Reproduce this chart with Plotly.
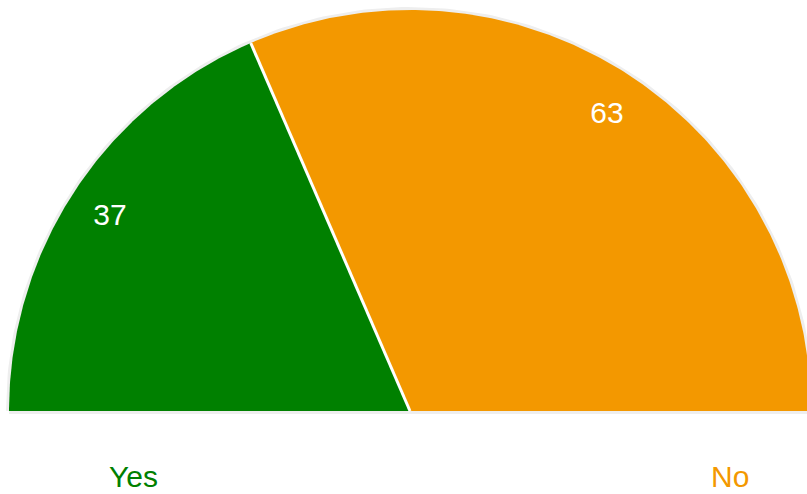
import numpy as np
import plotly.graph_objects as go

# Poll results shown as a half pie
categories = ["Yes", "No"]
values = [37, 63]
colors = ["#008000", "#f39800"]

RIM_COLOR = "#eeeeee"
FONT = "Arial, Liberation Sans, sans-serif"

total = sum(values)
# slice boundaries in degrees, sweeping clockwise from 180 (left) to 0 (right)
bounds = [180.0]
for v in values:
    bounds.append(bounds[-1] - 180.0 * v / total)


def arc(a0, a1, r=1.0, n=240):
    t = np.radians(np.linspace(a0, a1, n))
    return r * np.cos(t), r * np.sin(t)


fig = go.Figure()

# light grey rim around the whole half disc
rx, ry = arc(180.0, 0.0)
fig.add_trace(go.Scatter(
    x=np.concatenate([rx, [rx[0]]]),
    y=np.concatenate([ry, [ry[0]]]),
    mode="lines", fill="toself", fillcolor=RIM_COLOR,
    line=dict(color=RIM_COLOR, width=6),
    hoverinfo="skip", showlegend=False,
))

# slices
for name, a0, a1, col in zip(categories, bounds[:-1], bounds[1:], colors):
    sx, sy = arc(a0, a1)
    fig.add_trace(go.Scatter(
        x=np.concatenate([[0.0], sx, [0.0]]),
        y=np.concatenate([[0.0], sy, [0.0]]),
        mode="lines", fill="toself", fillcolor=col,
        line=dict(color=col, width=0),
        name=name, hoverinfo="name", showlegend=False,
    ))

# white separators between neighbouring slices
for a in bounds[1:-1]:
    t = np.radians(a)
    fig.add_trace(go.Scatter(
        x=[0.0, np.cos(t)], y=[0.0, np.sin(t)],
        mode="lines", line=dict(color="white", width=3),
        hoverinfo="skip", showlegend=False,
    ))

# value labels inside the slices (nudged slightly below the mid-ray)
mids = np.radians([(a0 + a1) / 2 for a0, a1 in zip(bounds[:-1], bounds[1:])])
label_r = 0.895
label_drop = 0.01
fig.add_trace(go.Scatter(
    x=label_r * np.cos(mids), y=label_r * np.sin(mids) - label_drop,
    mode="text", text=[str(v) for v in values],
    textposition="middle center",
    textfont=dict(color="white", size=30, family=FONT),
    hoverinfo="skip", showlegend=False,
))

# category captions along the bottom edge
caption_x = [0.1655, 0.9045]
for name, col, cx in zip(categories, colors, caption_x):
    fig.add_annotation(
        x=cx, y=0.0, xref="paper", yref="paper",
        text=name, showarrow=False, xanchor="center", yanchor="bottom",
        borderpad=0,
        font=dict(color=col, size=30, family=FONT),
    )

W, H = 807, 494
R_PX = 401.0      # radius in pixels
CX, CY = 410.0, 411.0  # centre in pixels from top-left

fig.update_layout(
    width=W, height=H,
    margin=dict(l=0, r=0, t=0, b=0),
    paper_bgcolor="white", plot_bgcolor="white",
    showlegend=False,
    xaxis=dict(range=[-CX / R_PX, (W - CX) / R_PX], visible=False, fixedrange=True),
    yaxis=dict(range=[-(H - CY) / R_PX, CY / R_PX], visible=False, fixedrange=True),
)

fig.write_html("out.html")
